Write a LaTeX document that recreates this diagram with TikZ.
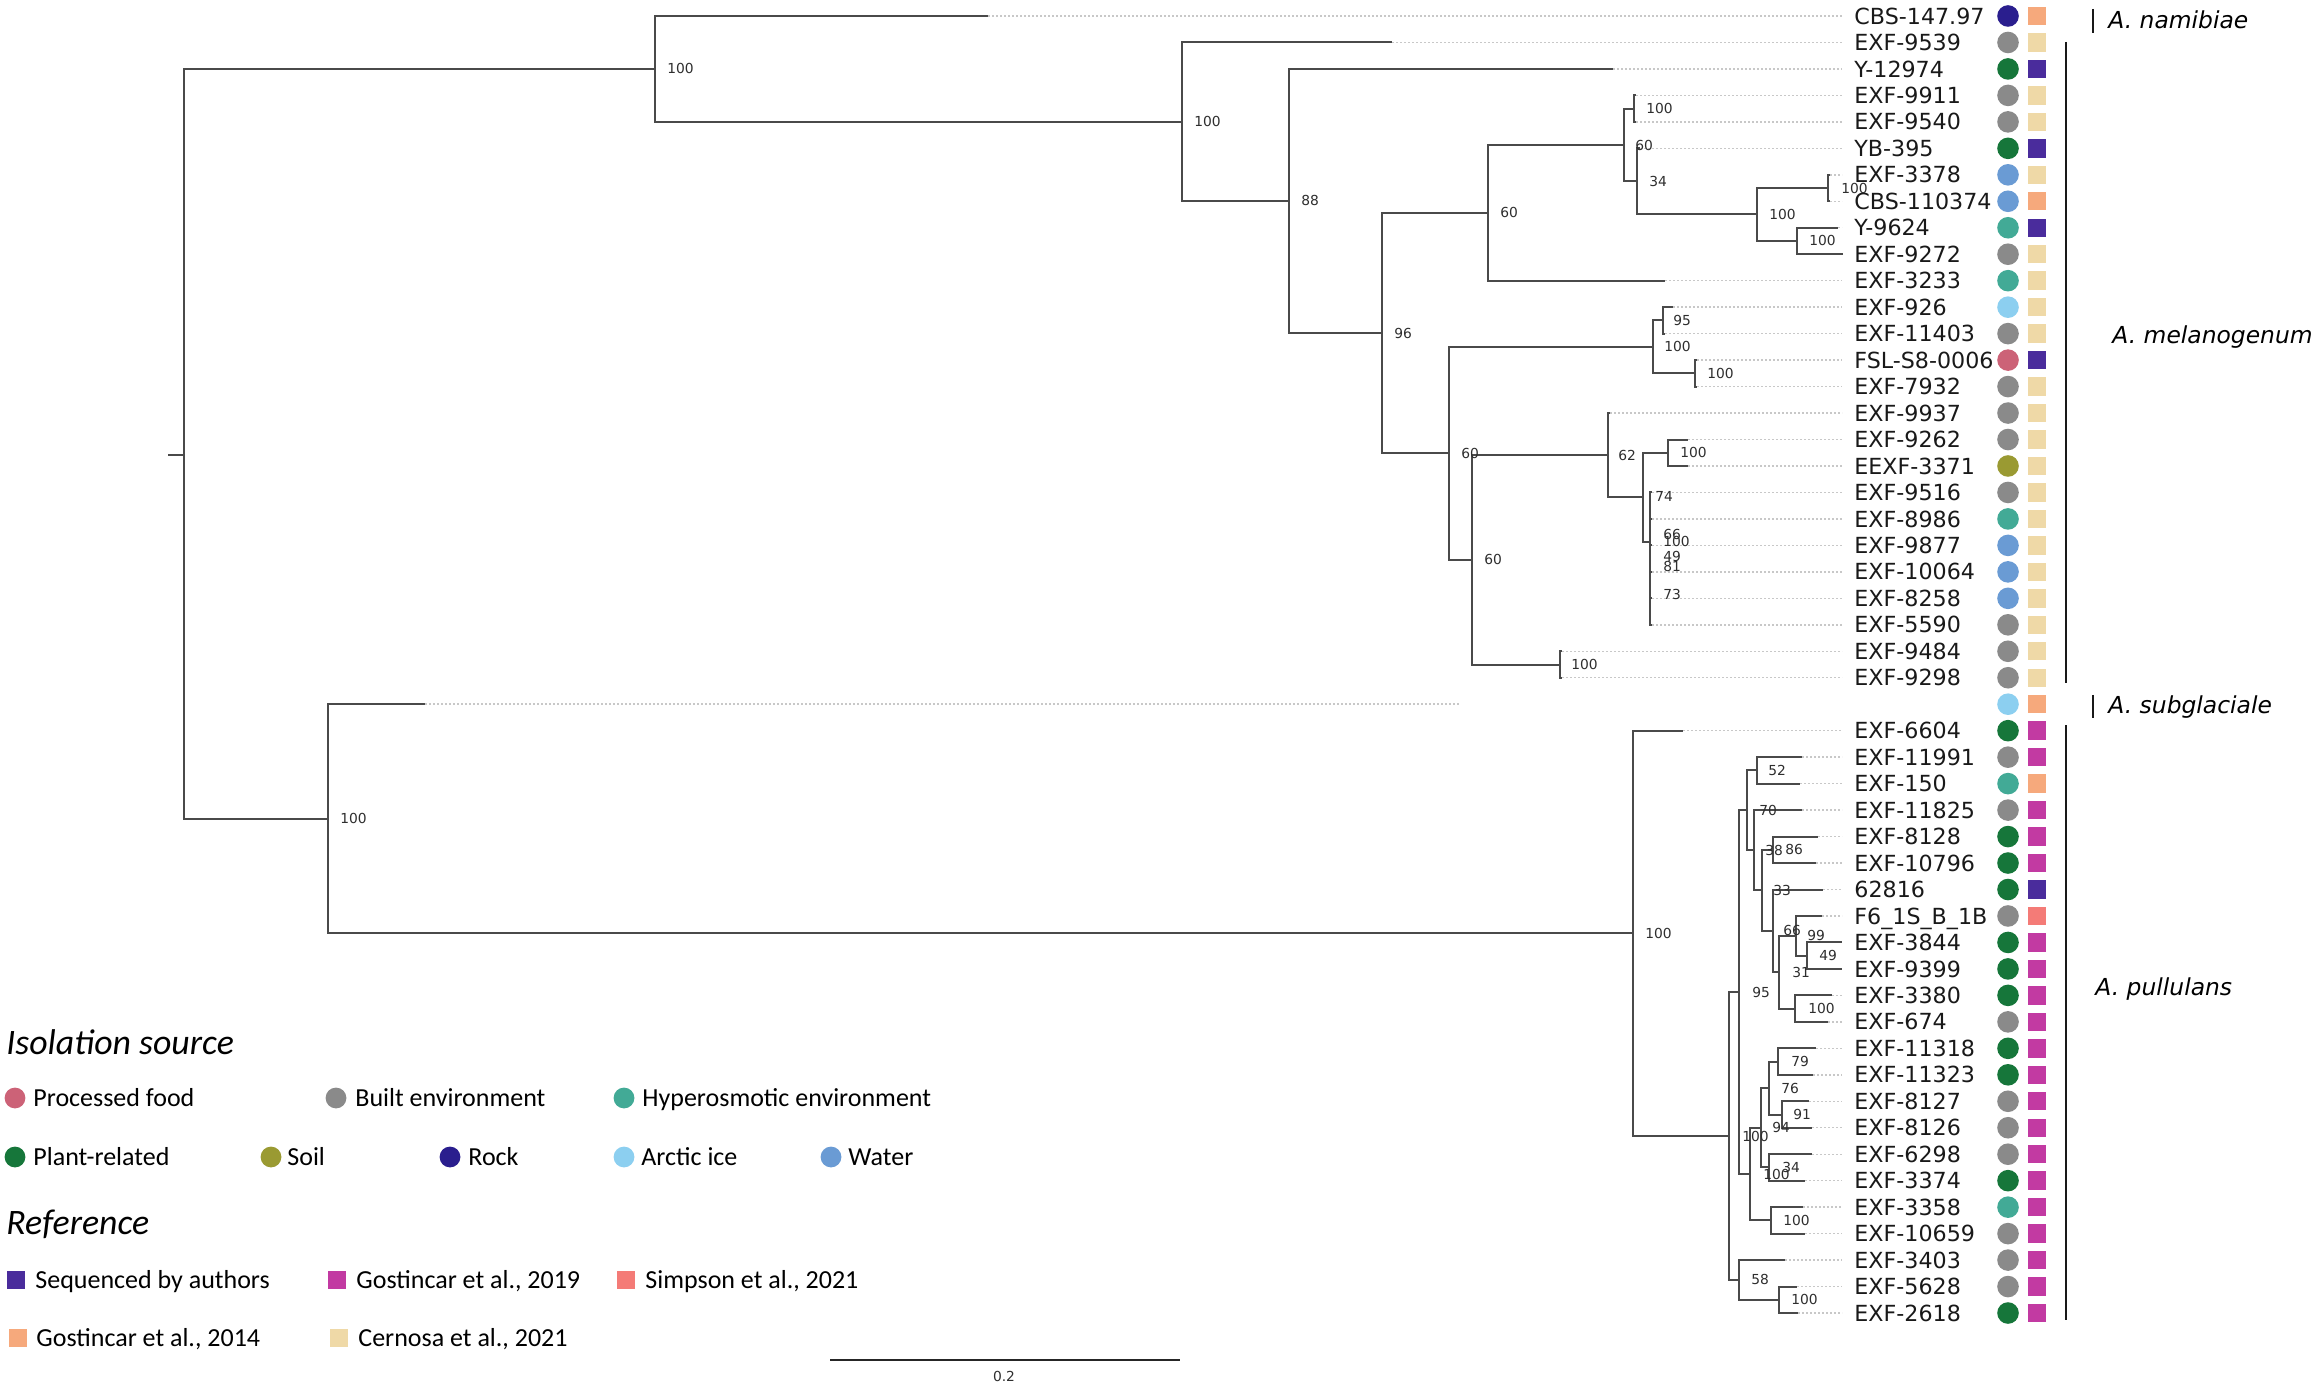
\documentclass[tikz,border=0pt]{standalone}
\usepackage{fontspec}
\newfontfamily\dejavu{DejaVu Sans}
\newfontfamily\carlito{Carlito}
\definecolor{treec}{HTML}{4A4A4A}
\definecolor{dotc}{HTML}{C8C8C8}
\definecolor{bsc}{HTML}{2E2E2E}
\definecolor{cfood}{HTML}{CC6277}
\definecolor{cbuilt}{HTML}{8A8A8A}
\definecolor{chyper}{HTML}{42AA96}
\definecolor{cplant}{HTML}{16763A}
\definecolor{csoil}{HTML}{9A9A32}
\definecolor{crock}{HTML}{2A1E8E}
\definecolor{cice}{HTML}{8CCFF0}
\definecolor{cwater}{HTML}{6A9BD4}
\definecolor{rseq}{HTML}{4A2C9C}
\definecolor{rgnineteen}{HTML}{C23AA2}
\definecolor{rsim}{HTML}{F47B77}
\definecolor{rgfourteen}{HTML}{F6A97C}
\definecolor{rcer}{HTML}{EFD9A7}
\begin{document}
\begin{tikzpicture}[x=0.5pt,y=-0.5pt,
  br/.style={draw=treec,line width=1.0pt,line join=miter},
  dotl/.style={draw=dotc,line width=0.7pt,dash pattern=on 1.2pt off 0.8pt},
  leaf/.style={anchor=base west,inner sep=0pt,font=\dejavu\fontsize{11.1}{13}\selectfont,text=black!90},
  bs/.style={anchor=base west,inner sep=0pt,font=\dejavu\fontsize{6.9}{8}\selectfont,text=bsc},
  dotnode/.style={circle,inner sep=0pt,minimum size=10.8pt},
  sqnode/.style={rectangle,inner sep=0pt,minimum size=9.2pt},
  spec/.style={anchor=base west,inner sep=0pt,font=\dejavu\itshape\fontsize{11.7}{14}\selectfont},
  specbar/.style={draw=black!90,line width=1.3pt},
  lgt/.style={anchor=base west,inner sep=0pt,font=\carlito\itshape\fontsize{17.9}{21}\selectfont},
  lt/.style={anchor=base west,inner sep=0pt,font=\carlito\fontsize{13}{15}\selectfont},
  lc/.style={circle,inner sep=0pt,minimum size=10.4pt},
  ls/.style={rectangle,inner sep=0pt,minimum size=9pt}]
\useasboundingbox (0,0) rectangle (2312,1384);

% internal nodes
\coordinate (rs) at (168,455);
\coordinate (nRoot) at (184,455);
\coordinate (nA) at (655,68.9);
\coordinate (nB) at (1182,121.75);
\coordinate (nC) at (1289,201);
\coordinate (nD) at (1382,333.15);
\coordinate (nE) at (1488,212.9);
\coordinate (nF) at (1624,145.1);
\coordinate (nG) at (1634,108.65);
\coordinate (nH) at (1637,181.5);
\coordinate (nI) at (1757,214.5);
\coordinate (nJ) at (1828,188.05);
\coordinate (nK) at (1797,241);
\coordinate (nL) at (1449,453.4);
\coordinate (nM) at (1653,346.9);
\coordinate (nN) at (1663,320.4);
\coordinate (nO) at (1695,373.35);
\coordinate (nP) at (1472,559.85);
\coordinate (nQ) at (1608,455.15);
\coordinate (nS) at (1643,497.2);
\coordinate (nT) at (1668,452.75);
\coordinate (nU) at (1650,541.7);
\coordinate (nR) at (1560,664.55);
\coordinate (nV) at (328,818.8);
\coordinate (nW) at (1633,933.4);
\coordinate (nX) at (1729.3,1136.1);
\coordinate (nY) at (1739.3,992.2);
\coordinate (nAB) at (1746.7,810.3);
\coordinate (nAC) at (1757.3,770.4);
\coordinate (nAD) at (1754,850.2);
\coordinate (nAE) at (1761.7,890.35);
\coordinate (nAF) at (1773,849.8);
\coordinate (nAG) at (1772.7,930.9);
\coordinate (nAH) at (1779.3,972.25);
\coordinate (nAI) at (1796,935.85);
\coordinate (nAK) at (1806.7,955.7);
\coordinate (nAJ) at (1795,1008.65);
\coordinate (nAL) at (1750,1174.05);
\coordinate (nAM) at (1760.7,1127.7);
\coordinate (nAN) at (1769.3,1088);
\coordinate (nAO) at (1778.3,1061.55);
\coordinate (nAP) at (1781.7,1114.5);
\coordinate (nAQ) at (1769.3,1167.45);
\coordinate (nAR) at (1770.7,1220.4);
\coordinate (nZ) at (1739.3,1279.95);
\coordinate (nAA) at (1779.3,1299.8);

% leaves
\foreach \i/\nm/\tx/\pp/\src/\rf in {
1/CBS-147.97/988/nA/crock/rgfourteen,
2/EXF-9539/1392/nB/cbuilt/rcer,
3/Y-12974/1613/nC/cplant/rseq,
4/EXF-9911/1636/nG/cbuilt/rcer,
5/EXF-9540/1636/nG/cbuilt/rcer,
6/YB-395/1640/nH/cplant/rseq,
7/EXF-3378/1830/nJ/cwater/rcer,
8/CBS-110374/1830/nJ/cwater/rgfourteen,
9/Y-9624/1838/nK/chyper/rseq,
10/EXF-9272/1843/nK/cbuilt/rcer,
11/EXF-3233/1665/nE/chyper/rcer,
12/EXF-926/1673/nN/cice/rcer,
13/EXF-11403/1665/nN/cbuilt/rcer,
14/FSL-S8-0006/1697/nO/cfood/rseq,
15/EXF-7932/1697/nO/cbuilt/rcer,
16/EXF-9937/1610/nQ/cbuilt/rcer,
17/EXF-9262/1688/nT/cbuilt/rcer,
18/EEXF-3371/1688/nT/csoil/rcer,
19/EXF-9516/1652/nU/cbuilt/rcer,
20/EXF-8986/1652/nU/chyper/rcer,
21/EXF-9877/1652/nU/cwater/rcer,
22/EXF-10064/1652/nU/cwater/rcer,
23/EXF-8258/1652/nU/cwater/rcer,
24/EXF-5590/1652/nU/cbuilt/rcer,
25/EXF-9484/1562/nR/cbuilt/rcer,
26/EXF-9298/1562/nR/cbuilt/rcer,
28/EXF-6604/1683/nW/cplant/rgnineteen,
29/EXF-11991/1802/nAC/cbuilt/rgnineteen,
30/EXF-150/1800/nAC/chyper/rgfourteen,
31/EXF-11825/1802/nAD/cbuilt/rgnineteen,
32/EXF-8128/1818/nAF/cplant/rgnineteen,
33/EXF-10796/1816/nAF/cplant/rgnineteen,
34/62816/1823/nAG/cplant/rseq,
35/F6\_1S\_B\_1B/1822/nAI/cbuilt/rsim,
36/EXF-3844/1842/nAK/cplant/rgnineteen,
37/EXF-9399/1842/nAK/cplant/rgnineteen,
38/EXF-3380/1832/nAJ/cplant/rgnineteen,
39/EXF-674/1828/nAJ/cbuilt/rgnineteen,
40/EXF-11318/1816/nAO/cplant/rgnineteen,
41/EXF-11323/1813/nAO/cplant/rgnineteen,
42/EXF-8127/1809/nAP/cbuilt/rgnineteen,
43/EXF-8126/1812/nAP/cbuilt/rgnineteen,
44/EXF-6298/1812/nAQ/cbuilt/rgnineteen,
45/EXF-3374/1805/nAQ/cplant/rgnineteen,
46/EXF-3358/1803/nAR/chyper/rgnineteen,
47/EXF-10659/1805/nAR/cbuilt/rgnineteen,
48/EXF-3403/1785/nZ/cbuilt/rgnineteen,
49/EXF-5628/1797/nAA/cbuilt/rgnineteen,
50/EXF-2618/1798/nAA/cplant/rgnineteen}{
  \pgfmathsetmacro\yy{16+(\i-1)*26.47}
  \coordinate (t\i) at (\tx,\yy);
  \coordinate (e\i) at (1842,\yy);
  \draw[dotl] (t\i) -- (e\i);
  \node[leaf] (l\i) at (1854,{\yy+8.1}) {\nm};
  \node[dotnode,fill=\src] (c\i) at (2008,\yy) {};
  \node[sqnode,fill=\rf] (s\i) at (2037,\yy) {};
}
% A. subglaciale (row 27)
\coordinate (t27) at (425,704.2);
\coordinate (e27) at (1460,704.2);
\draw[dotl] (t27) -- (e27);
\node[dotnode,fill=cice] (c27) at (2008,704.2) {};
\node[sqnode,fill=rgfourteen] (s27) at (2037,704.2) {};

% branches
\draw[br] (rs) -- (nRoot);
\draw[br] (nRoot) |- (nA);
\draw[br] (nRoot) |- (nV);
\foreach \p/\c in {nA/t1,nA/nB,nB/t2,nB/nC,nC/t3,nC/nD,nD/nE,nD/nL,
  nE/nF,nE/t11,nF/nG,nF/nH,nG/t4,nG/t5,nH/t6,nH/nI,nI/nJ,nI/nK,
  nJ/t7,nJ/t8,nK/t9,nK/t10,nL/nM,nL/nP,nM/nN,nM/nO,nN/t12,nN/t13,
  nO/t14,nO/t15,nP/nQ,nP/nR,nQ/t16,nQ/nS,nS/nT,nS/nU,nT/t17,nT/t18,
  nU/t19,nU/t20,nU/t21,nU/t22,nU/t23,nU/t24,nR/t25,nR/t26,
  nV/t27,nV/nW,nW/t28,nW/nX,nX/nY,nX/nZ,nY/nAB,nY/nAL,
  nAB/nAC,nAB/nAD,nAC/t29,nAC/t30,nAD/t31,nAD/nAE,nAE/nAF,nAE/nAG,
  nAF/t32,nAF/t33,nAG/t34,nAG/nAH,nAH/nAI,nAH/nAJ,nAI/t35,nAI/nAK,
  nAK/t36,nAK/t37,nAJ/t38,nAJ/t39,nAL/nAM,nAL/nAR,nAM/nAN,nAM/nAQ,
  nAN/nAO,nAN/nAP,nAO/t40,nAO/t41,nAP/t42,nAP/t43,nAQ/t44,nAQ/t45,
  nAR/t46,nAR/t47,nZ/t48,nZ/nAA,nAA/t49,nAA/t50}{
  \draw[br] (\p) |- (\c);
}

% bootstrap values
\foreach \n/\bx/\by/\bt in {
bA/667/68.9/100, bB/1194/121.75/100, bC/1301/201/88, bD/1394/333.15/96,
bE/1500/212.9/60, bF/1635/145.1/60, bG/1646/108.65/100, bH/1649/181.5/34,
bI/1769/214.5/100, bJ/1841/188.05/100, bK/1809/241/100, bN/1673/320.4/95,
bM/1664/346.9/100, bO/1707/373.35/100, bQ/1618/455.15/62, bT/1680/452.75/100,
bUa/1655/496.7/74, bUb/1663/535/66, bUc/1663/541.7/100, bUd/1663/556.7/49,
bUe/1663/566.7/81, bUf/1663/595/73, bL/1461/453.4/60, bP/1484/559.85/60,
bR/1571/664.55/100, bV/340/818.8/100, bW/1645/933.4/100, bY/1752/992.2/95,
bAB/1759/810.3/70, bAC/1768/770.4/52, bAD/1765/850.2/38, bAF/1785/849.8/86,
bAE/1773/890.35/33, bAG/1783/930.9/66, bAI/1807/935.85/99, bAK/1819/955.7/49,
bAH/1792/972.25/31, bAJ/1808/1008.65/100, bX/1742/1136.1/100, bAL/1763/1174.05/100,
bAM/1772/1127.7/94, bAN/1781/1088/76, bAO/1791/1061.55/79, bAP/1793/1114.5/91,
bAQ/1782/1167.45/34, bAR/1783/1220.4/100, bZ/1751/1279.95/58, bAA/1791/1299.8/100}{
  \node[bs] (\n) at (\bx,{\by+5}) {\bt};
}

% species annotations
\coordinate (na1) at (2093,9); \coordinate (na2) at (2093,33);
\draw[specbar] (na1) -- (na2);
\node[spec] (spNam) at (2108,28.5) {A. namibiae};
\coordinate (me1) at (2066,42); \coordinate (me2) at (2066,683);
\draw[specbar] (me1) -- (me2);
\node[spec] (spMel) at (2112,343.5) {A. melanogenum};
\coordinate (su1) at (2093,695); \coordinate (su2) at (2093,718);
\draw[specbar] (su1) -- (su2);
\node[spec] (spSub) at (2108,713.5) {A. subglaciale};
\coordinate (pu1) at (2066,725); \coordinate (pu2) at (2066,1320);
\draw[specbar] (pu1) -- (pu2);
\node[spec] (spPul) at (2095,995.5) {A. pullulans};

% legend
\node[lgt] (tIso) at (6,1054.4) {Isolation source};
\node[lc,fill=cfood] (lc1) at (15,1098) {};
\node[lt] (lt1) at (33,1106.4) {Processed food};
\node[lc,fill=cbuilt] (lc2) at (336,1098) {};
\node[lt] (lt2) at (355,1106.4) {Built environment};
\node[lc,fill=chyper] (lc3) at (624,1098) {};
\node[lt] (lt3) at (642,1106.4) {Hyperosmotic environment};
\node[lc,fill=cplant] (lc4) at (15,1157) {};
\node[lt] (lt4) at (33,1165.4) {Plant-related};
\node[lc,fill=csoil] (lc5) at (271,1157) {};
\node[lt] (lt5) at (287,1165.4) {Soil};
\node[lc,fill=crock] (lc6) at (450,1157) {};
\node[lt] (lt6) at (468,1165.4) {Rock};
\node[lc,fill=cice] (lc7) at (624,1157) {};
\node[lt] (lt7) at (641,1165.4) {Arctic ice};
\node[lc,fill=cwater] (lc8) at (831,1157) {};
\node[lt] (lt8) at (848,1165.4) {Water};

\node[lgt] (tRef) at (6,1234.4) {Reference};
\node[ls,fill=rseq] (ls1) at (16,1280) {};
\node[lt] (lr1) at (35,1288.4) {Sequenced by authors};
\node[ls,fill=rgnineteen] (ls2) at (337,1280) {};
\node[lt] (lr2) at (356,1288.4) {Gostincar et al., 2019};
\node[ls,fill=rsim] (ls3) at (626,1280) {};
\node[lt] (lr3) at (645,1288.4) {Simpson et al., 2021};
\node[ls,fill=rgfourteen] (ls4) at (18,1338) {};
\node[lt] (lr4) at (36,1346.4) {Gostincar et al., 2014};
\node[ls,fill=rcer] (ls5) at (339,1338) {};
\node[lt] (lr5) at (358,1346.4) {Cernosa et al., 2021};

% scale bar
\coordinate (sb1) at (830,1360); \coordinate (sb2) at (1180,1360);
\draw[draw=black!85,line width=1.1pt] (sb1) -- (sb2);
\node[anchor=base,inner sep=0pt,font=\dejavu\fontsize{6.9}{8}\selectfont,text=bsc] (sbl) at (1004,1381) {0.2};
\end{tikzpicture}
\end{document}
